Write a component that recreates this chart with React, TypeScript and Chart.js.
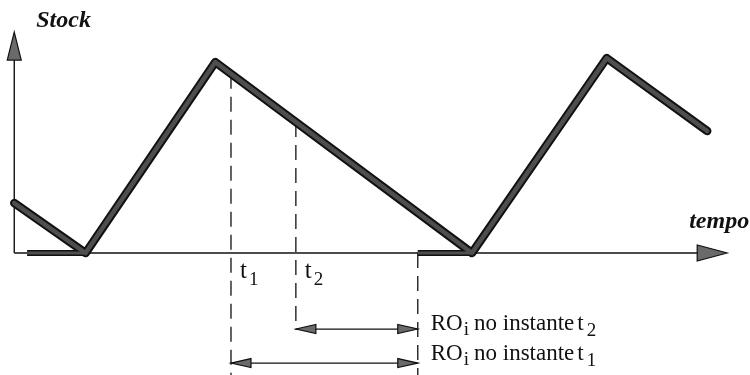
import { useEffect, useRef } from "react";
import { Chart, registerables } from "chart.js";

Chart.register(...registerables);

// ---- data (time in arbitrary units, stock level in arbitrary units) ----
const stockTimes = [0, 10, 28.2, 64.2, 83.1, 97.2];
const stockLevels = [22.6, 0, 86.4, 0, 88.2, 55.2];
// heavy runs lying on the time axis (stock at zero / order lead)
const zeroRunA = [1.8, 10];
const zeroRunB = [56.6, 64.2];
// vertical dashed markers: t1, t2 and the order instant
const eventTimes = [30.4, 39.5, 56.6];
const eventTops = [81.1, 59.3, 0];
const eventBottoms = [-55.2, -34.8, -55.2];
const eventSubs = ["1", "2", ""];
// RO_i double arrows
const roStarts = [39.5, 30.4];
const roEnd = 56.6;
const roLevels = [-34.4, -49.8];
const roSubs = ["2", "1"];
// axes
const axisTime = [0, 100];
const axisStock = [0, 100];
const xRange = [-2, 103.2];
const yRange = [-55.2, 114.5];

const SERIF = '"Liberation Serif", "Times New Roman", serif';

function head(ctx: CanvasRenderingContext2D, tx: number, ty: number, dx: number, dy: number, len: number, half: number) {
  const bx = tx - dx * len;
  const by = ty - dy * len;
  const nx = -dy;
  const ny = dx;
  ctx.beginPath();
  ctx.moveTo(tx, ty);
  ctx.lineTo(bx + nx * half, by + ny * half);
  ctx.lineTo(bx - nx * half, by - ny * half);
  ctx.closePath();
  ctx.fillStyle = "#6a6a6a";
  ctx.fill();
  ctx.strokeStyle = "#111";
  ctx.lineWidth = 1.2;
  ctx.stroke();
}

const decor = {
  id: "decor",
  afterDatasetsDraw(chart: any) {
    const ctx: CanvasRenderingContext2D = chart.ctx;
    const sx = chart.scales.x;
    const sy = chart.scales.y;
    const px = (v: number) => sx.getPixelForValue(v);
    const py = (v: number) => sy.getPixelForValue(v);
    ctx.save();
    // axis arrowheads
    head(ctx, px(axisTime[0]), py(axisStock[1]), 0, -1, 28, 7);
    head(ctx, px(axisTime[1]), py(axisStock[0]), 1, 0, 30, 8);
    // RO arrowheads
    roStarts.forEach((s, i) => {
      head(ctx, px(s), py(roLevels[i]), -1, 0, 20, 4.5);
      head(ctx, px(roEnd), py(roLevels[i]), 1, 0, 20, 4.5);
    });
    ctx.fillStyle = "#111";
    ctx.textBaseline = "alphabetic";
    // axis titles
    ctx.font = `italic bold 24px ${SERIF}`;
    ctx.textAlign = "left";
    ctx.fillText("Stock", px(axisTime[0]) + 22, py(axisStock[1]) - 5);
    ctx.textAlign = "right";
    ctx.fillText("tempo", px(axisTime[1]) + 22, py(axisStock[0]) - 25);
    ctx.textAlign = "left";
    // t labels
    eventTimes.forEach((t, i) => {
      if (!eventSubs[i]) return;
      const x0 = px(t) + 9;
      const b = py(0) + 25;
      ctx.font = `25px ${SERIF}`;
      ctx.fillText("t", x0, b);
      const w = ctx.measureText("t").width;
      ctx.font = `19px ${SERIF}`;
      ctx.fillText(eventSubs[i], x0 + w + 2, b + 7);
    });
    // RO labels
    roLevels.forEach((lv, i) => {
      let x = px(roEnd) + 13;
      const b = py(lv) + (i === 0 ? 1 : -3);
      ctx.font = `23px ${SERIF}`;
      ctx.fillText("RO", x, b);
      x += ctx.measureText("RO").width + 1;
      ctx.font = `19px ${SERIF}`;
      ctx.fillText("i", x, b + 5);
      x += ctx.measureText("i").width + 5;
      ctx.font = `23px ${SERIF}`;
      ctx.fillText("no instante", x, b);
      x += ctx.measureText("no instante").width + 3;
      ctx.fillText("t", x, b);
      x += ctx.measureText("t").width + 3;
      ctx.font = `19px ${SERIF}`;
      ctx.fillText(roSubs[i], x, b + 6);
    });
    ctx.restore();
  },
};

export default function App() {
  const ref = useRef<HTMLCanvasElement | null>(null);
  useEffect(() => {
    if (!ref.current) return;
    const pts = (xs: number[], ys: number[]) => xs.map((x, i) => ({ x, y: ys[i] }));
    const thin = { pointRadius: 0, borderColor: "#111", borderWidth: 1.4, fill: false, tension: 0 };
    const datasets: any[] = [];
    // axes
    datasets.push({ ...thin, order: 5, data: pts([axisTime[0], axisTime[1] - 1], [0, 0]) });
    datasets.push({ ...thin, order: 5, data: pts([0, 0], [axisStock[0], axisStock[1] - 2]) });
    // dashed markers
    eventTimes.forEach((t, i) => {
      datasets.push({ ...thin, order: 4, borderWidth: 1.3, borderDash: [15, 8], data: pts([t, t], [eventTops[i], eventBottoms[i]]) });
    });
    // RO arrow shafts
    roStarts.forEach((s, i) => {
      datasets.push({ ...thin, order: 4, borderWidth: 1.3, data: pts([s, roEnd], [roLevels[i], roLevels[i]]) });
    });
    // heavy stock line (outline + fill)
    const heavy = (data: any[], w: number, wi: number, cap: string) => {
      datasets.push({ pointRadius: 0, fill: false, tension: 0, order: 1, borderColor: "#111", borderWidth: w, borderJoinStyle: "round", borderCapStyle: cap, data });
      datasets.push({ pointRadius: 0, fill: false, tension: 0, order: 0, borderColor: "#4e4e4e", borderWidth: wi, borderJoinStyle: "round", borderCapStyle: cap, data });
    };
    heavy(pts(zeroRunA, [0, 0]), 6, 3, "butt");
    heavy(pts(zeroRunB, [0, 0]), 6, 3, "butt");
    heavy(pts(stockTimes, stockLevels), 8.5, 4.5, "round");

    const chart = new Chart(ref.current, {
      type: "line",
      data: { datasets },
      options: {
        animation: false,
        responsive: false,
        devicePixelRatio: 1,
        layout: { padding: 0 },
        plugins: { legend: { display: false }, tooltip: { enabled: false } },
        scales: {
          x: { type: "linear", min: xRange[0], max: xRange[1], display: false },
          y: { type: "linear", min: yRange[0], max: yRange[1], display: false },
        },
      },
      plugins: [decor],
    } as any);
    return () => chart.destroy();
  }, []);
  return (
    <div style={{ position: "absolute", left: 0, top: 0, width: 750, height: 375, background: "#fff" }}>
      <canvas ref={ref} width={750} height={375} />
    </div>
  );
}
